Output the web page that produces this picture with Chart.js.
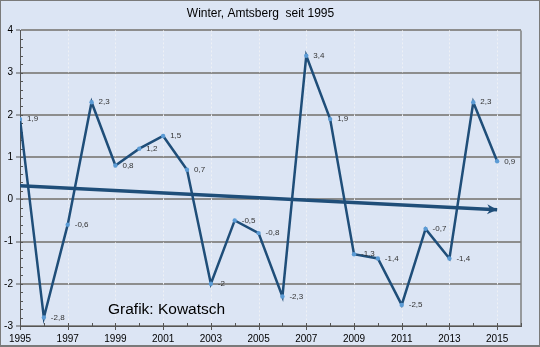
<!DOCTYPE html>
<html>
<head>
<meta charset="utf-8">
<title>Winter, Amtsberg seit 1995</title>
<script src="https://cdn.jsdelivr.net/npm/chart.js@4/dist/chart.umd.min.js"></script>
<style>
  html, body { margin: 0; padding: 0; background: #dce5f4; }
  canvas { display: block; }
</style>
</head>
<body>
<canvas id="myChart" width="540" height="347"></canvas>
<script>
// winter mean temperatures per year
const years = [1995, 1996, 1997, 1998, 1999, 2000, 2001, 2002, 2003, 2004, 2005,
               2006, 2007, 2008, 2009, 2010, 2011, 2012, 2013, 2014, 2015];
const winterTemps = [1.9, -2.8, -0.6, 2.3, 0.8, 1.2, 1.5, 0.7, -2, -0.5, -0.8,
                     -2.3, 3.4, 1.9, -1.3, -1.4, -2.5, -0.7, -1.4, 2.3, 0.9];
// trend arrow, start and end
const trendYears = [1995, 2015];
const trendValues = [0.32, -0.25];
// axis ranges
const xMin = 1995, xMax = 2016;
const yMin = -3, yMax = 4;

const fontFamily = "Arial, 'Liberation Sans', sans-serif";
const lineBlue = '#1f4e79';
const pointBlue = '#5b9bd5';

function toPoints(xs, ys){
    let pts = [];
    for(let i = 0;i < xs.length;i++){
        pts.push({x: xs[i], y: ys[i]});
    }
    return pts;
}

// background, dotted verticals, minor ticks, right border
const frame = {
    id: 'frame',
    beforeDraw(chart){
        const ctx = chart.ctx;
        ctx.save();
        ctx.fillStyle = '#dce5f4';
        ctx.fillRect(0, 0, chart.width, chart.height);
        ctx.restore();
    },
    beforeDatasetsDraw(chart){
        const ctx = chart.ctx;
        const area = chart.chartArea;
        const xs = chart.scales.x, ys = chart.scales.y;
        ctx.save();
        // light dotted lines every second year
        ctx.strokeStyle = '#eef1f6';
        ctx.lineWidth = 1;
        ctx.setLineDash([2, 2]);
        for(let yr = xMin + 2;yr < xMax;yr += 2){
            const px = Math.round(xs.getPixelForValue(yr)) + 0.5;
            ctx.beginPath();
            ctx.moveTo(px, area.top);
            ctx.lineTo(px, area.bottom);
            ctx.stroke();
        }
        ctx.setLineDash([]);
        // right border
        ctx.strokeStyle = '#7f7f7f';
        ctx.lineWidth = 1.5;
        ctx.beginPath();
        ctx.moveTo(area.right, area.top);
        ctx.lineTo(area.right, area.bottom);
        ctx.stroke();
        // ticks on x axis
        ctx.strokeStyle = '#555';
        ctx.lineWidth = 1;
        for(let yr = xMin;yr <= xMax;yr++){
            const px = Math.round(xs.getPixelForValue(yr)) + 0.5;
            const major = (yr - xMin) % 2 === 0;
            ctx.beginPath();
            ctx.moveTo(px, area.bottom - 3);
            ctx.lineTo(px, major ? area.bottom + 4 : area.bottom);
            ctx.stroke();
        }
        // minor ticks on y axis
        for(let v = yMin;v < yMax;v += 0.2){
            const py = Math.round(ys.getPixelForValue(v)) + 0.5;
            ctx.beginPath();
            ctx.moveTo(area.left, py);
            ctx.lineTo(area.left + 3, py);
            ctx.stroke();
        }
        ctx.restore();
    },
    afterDraw(chart){
        const ctx = chart.ctx;
        ctx.save();
        ctx.strokeStyle = '#7a7a7a';
        ctx.lineWidth = 1;
        ctx.strokeRect(0.5, 0.5, chart.width - 1, chart.height - 1);
        ctx.beginPath();
        ctx.moveTo(0, chart.height - 1.5);
        ctx.lineTo(chart.width, chart.height - 1.5);
        ctx.stroke();
        // source note
        ctx.fillStyle = '#000';
        ctx.font = '15.5px ' + fontFamily;
        ctx.textBaseline = 'middle';
        ctx.textAlign = 'left';
        ctx.fillText('Grafik: Kowatsch', 108, 310);
        ctx.restore();
    }
};

// value labels next to the points, arrowhead on the trend line
const labelsAndArrow = {
    id: 'labelsAndArrow',
    afterDatasetsDraw(chart){
        const ctx = chart.ctx;
        ctx.save();
        const meta = chart.getDatasetMeta(0);
        ctx.fillStyle = '#333';
        ctx.font = '8px ' + fontFamily;
        ctx.textBaseline = 'middle';
        ctx.textAlign = 'left';
        meta.data.forEach((pt, i) => {
            const txt = String(winterTemps[i]).replace('.', ',');
            ctx.fillText(txt, pt.x + 7, pt.y);
        });
        const tm = chart.getDatasetMeta(1).data;
        const a = tm[tm.length - 2], b = tm[tm.length - 1];
        const ang = Math.atan2(b.y - a.y, b.x - a.x);
        ctx.fillStyle = lineBlue;
        ctx.translate(b.x, b.y);
        ctx.rotate(ang);
        ctx.beginPath();
        ctx.moveTo(0, 0);
        ctx.lineTo(-10, -5);
        ctx.lineTo(-7, 0);
        ctx.lineTo(-10, 5);
        ctx.closePath();
        ctx.fill();
        ctx.restore();
    }
};

const ctx = document.getElementById('myChart').getContext('2d');
const myChart = new Chart(ctx, {
    type: 'line',
    data: {
        datasets: [{
            label: 'Winter',
            data: toPoints(years, winterTemps),
            borderColor: lineBlue,
            borderWidth: 2.5,
            pointRadius: 2.2,
            pointBackgroundColor: pointBlue,
            pointBorderWidth: 0,
            tension: 0,
            order: 1
        }, {
            label: 'Trend',
            data: toPoints(trendYears, trendValues),
            borderColor: lineBlue,
            borderWidth: 3.5,
            pointRadius: 0,
            tension: 0,
            order: 0
        }]
    },
    options: {
        responsive: false,
        devicePixelRatio: 1,
        animation: false,
        layout: {
            padding: {left: 0, right: 19, top: 0, bottom: 0}
        },
        plugins: {
            legend: {display: false},
            tooltip: {enabled: false},
            title: {
                display: true,
                text: 'Winter, Amtsberg  seit 1995',
                color: '#000',
                font: {family: fontFamily, size: 12, weight: 'normal'},
                padding: {top: 6, bottom: 10}
            }
        },
        scales: {
            x: {
                type: 'linear',
                min: xMin,
                max: xMax,
                afterFit: function(scale){ scale.height = 21; },
                ticks: {
                    stepSize: 1,
                    autoSkip: false,
                    maxRotation: 0,
                    padding: 3,
                    color: '#000',
                    font: {family: fontFamily, size: 10},
                    callback: function(v){
                        return ((v - xMin) % 2 === 0 && v < xMax) ? String(v) : '';
                    }
                },
                grid: {
                    drawOnChartArea: false,
                    tickLength: 4,
                    tickColor: 'rgba(0,0,0,0)'
                },
                border: {color: '#555', width: 1}
            },
            y: {
                min: yMin,
                max: yMax,
                afterFit: function(scale){ scale.width = 20; },
                ticks: {
                    stepSize: 1,
                    padding: 3,
                    color: '#000',
                    font: {family: fontFamily, size: 10}
                },
                grid: {
                    color: '#8d8d8d',
                    lineWidth: 2,
                    tickLength: 4,
                    tickColor: '#555',
                    tickWidth: 1
                },
                border: {color: '#555', width: 1}
            }
        }
    },
    plugins: [frame, labelsAndArrow]
});
</script>
</body>
</html>
